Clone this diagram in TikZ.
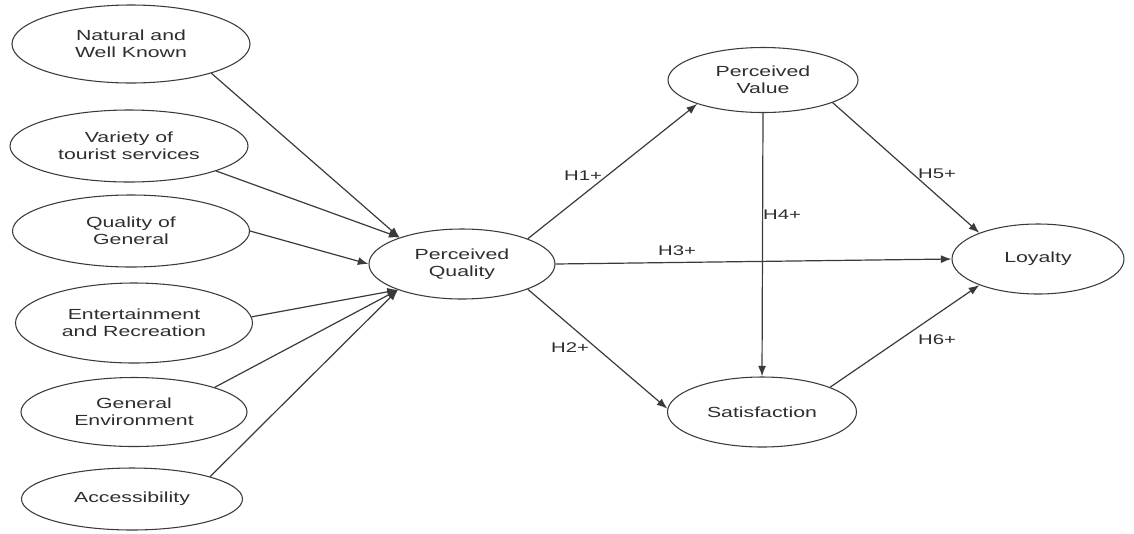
\documentclass[tikz,border=0pt]{standalone}
\usepackage{fontspec}
\setmainfont{Liberation Sans}[FakeStretch=1.45]
\usetikzlibrary{shapes.geometric,arrows.meta}
\definecolor{linec}{HTML}{3A3A3A}
\definecolor{textc}{HTML}{2E2E2E}
\tikzset{
  oval/.style={ellipse, draw=linec, line width=0.8pt, inner sep=0pt, text=textc,
    font=\fontsize{11pt}{12.5pt}\selectfont, align=center},
  conn/.style={draw=linec, line width=0.9pt, -{Latex[length=8pt,width=6pt]}},
  lbl/.style={text=textc, font=\fontsize{10.5pt}{12pt}\selectfont, inner sep=1pt}
}
\begin{document}
\begin{tikzpicture}[x=0.75pt,y=-0.75pt]
\useasboundingbox (0,0) rectangle (1134,533);
% left constructs
\node[oval, minimum width=178.5pt, minimum height=58.5pt] (nat) at (131,44) {Natural and\\Well Known};
\node[oval, minimum width=178.5pt, minimum height=54pt] (var) at (129,146) {Variety of\\tourist services};
\node[oval, minimum width=177.75pt, minimum height=54pt] (qual) at (131,231) {Quality of\\General};
\node[oval, minimum width=177.75pt, minimum height=60pt] (ent) at (134,323) {Entertainment\\and Recreation};
\node[oval, minimum width=169.5pt, minimum height=51.75pt] (env) at (134,412) {General\\Environment};
\node[oval, minimum width=165.75pt, minimum height=46.5pt] (acc) at (132,499) {Accessibility};
% central constructs
\node[oval, minimum width=139.5pt, minimum height=52.5pt] (pq) at (462,264) {Perceived\\Quality};
\node[oval, minimum width=142.5pt, minimum height=48.75pt] (pv) at (763,80) {Perceived\\Value};
\node[oval, minimum width=141.75pt, minimum height=52.5pt] (sat) at (762,412) {Satisfaction};
\node[oval, minimum width=129pt, minimum height=52.5pt] (loy) at (1038,259) {Loyalty};
% entry points on Perceived Quality
\coordinate (pqa) at (pq.157);
\coordinate (pqb) at (pq.west);
\coordinate (pqc) at (pq.202);
% left arrows
\draw[conn] (nat.-20) -- (pqa);
\draw[conn] (var.-16.5) -- (pqa);
\draw[conn] (qual.east) -- (pqb);
\draw[conn] (ent.3) -- (pqc);
\draw[conn] (env.17) -- (pqc);
\draw[conn] (acc.16) -- (pqc);
% hypotheses
\draw[conn] (pq.21.5) -- (pv.200);
\draw[conn] (pq.-21) -- (sat.178);
\draw[conn] (pq.east) -- (loy.west);
\draw[conn] (pv.south) -- (sat.north);
\draw[conn] (pv.-18.4) -- (loy.156.5);
\draw[conn] (sat.20) -- (loy.204);
% labels
\node[lbl] (h1) at (583,176) {H1+};
\node[lbl] (h2) at (570,348) {H2+};
\node[lbl] (h3) at (677,251) {H3+};
\node[lbl] (h4) at (782,215) {H4+};
\node[lbl] (h5) at (937,174) {H5+};
\node[lbl] (h6) at (937,340) {H6+};
\end{tikzpicture}
\end{document}
